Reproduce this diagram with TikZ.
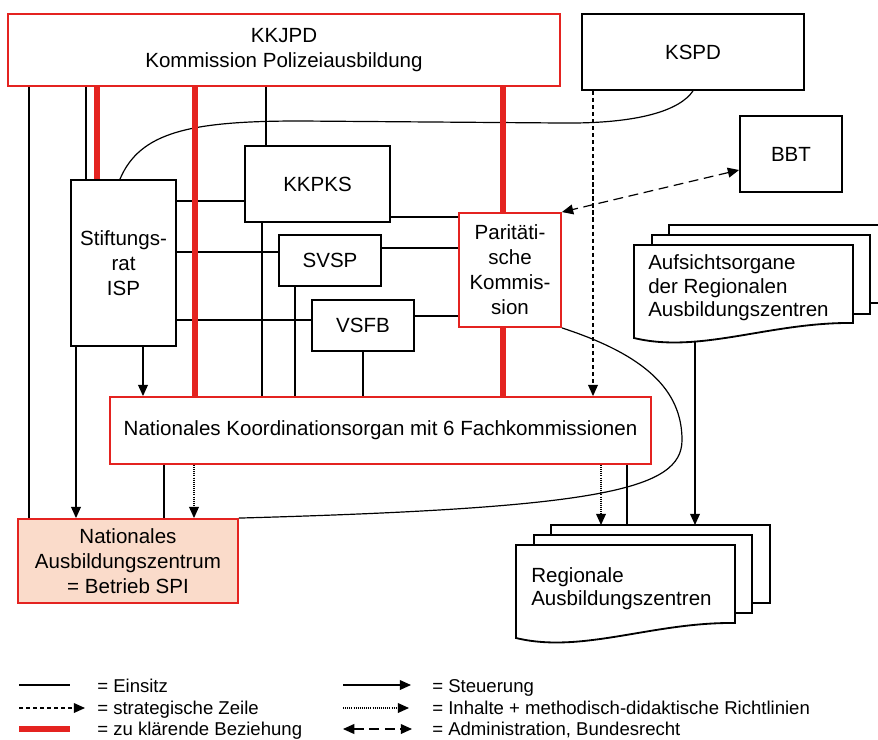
\documentclass[tikz,border=0pt]{standalone}
\usepackage{fontspec}
\setmainfont{Liberation Sans}
\usetikzlibrary{arrows.meta, positioning, calc}
\definecolor{kred}{HTML}{E42320}
\definecolor{kpeach}{HTML}{FADBCA}
\tikzset{
  box/.style={draw, line width=1.3pt, fill=white, align=center, inner sep=0pt,
    font=\fontsize{14.6}{17.8}\selectfont},
  redbox/.style={box, draw=kred},
  doc/.style={draw, line width=1.3pt, fill=white},
  doctext/.style={anchor=west, align=left, inner sep=0pt, font=\fontsize{14.6}{16.6}\selectfont},
  legtext/.style={anchor=base west, inner sep=0pt, font=\fontsize{13.2}{15}\selectfont},
  einsitz/.style={line width=0.85pt},
  steuer/.style={line width=0.85pt, -{Triangle[length=8pt, width=7pt]}},
  strat/.style={steuer, dash pattern=on 3pt off 2pt},
  inhalt/.style={steuer, dash pattern=on 0.6pt off 0.9pt},
  admin/.style={line width=0.85pt, {Triangle[length=8pt, width=7pt]}-{Triangle[length=8pt, width=7pt]},
    dash pattern=on 7pt off 4pt},
  klaer/.style={kred, line width=3.8pt}
}

\begin{document}
\begin{tikzpicture}[x=0.025cm, y=-0.025cm]
  \useasboundingbox (0,0) rectangle (878,740);
  \clip (0,0) rectangle (878,740);

  % boxes
  \node[redbox, minimum width=13.8cm, minimum height=1.8cm] (kkjpd) at (284,50) {KKJPD\\Kommission Polizeiausbildung};
  \node[box, minimum width=5.55cm, minimum height=1.9cm] (kspd) at (693,52) {KSPD};
  \node[box, minimum width=2.55cm, minimum height=1.9cm] (bbt) at (791,154) {BBT};
  \node[box, minimum width=3.625cm, minimum height=1.9cm] (kkpks) at (317.5,184) {KKPKS};
  \node[box, minimum width=2.625cm, minimum height=4.15cm] (isp) at (123.5,263) {Stiftungs-\\rat\\ISP};
  \node[box, minimum width=2.55cm, minimum height=1.275cm] (svsp) at (330,260.5) {SVSP};
  \node[box, minimum width=2.55cm, minimum height=1.275cm] (vsfb) at (363,325.5) {VSFB};
  \node[redbox, minimum width=2.55cm, minimum height=2.85cm] (pk) at (510,270) {Parit\"ati-\\sche\\Kommis-\\sion};
  \node[redbox, minimum width=13.525cm, minimum height=1.675cm] (nko) at (380.5,430.5) {Nationales Koordinationsorgan mit 6 Fachkommissionen};
  \node[redbox, fill=kpeach, minimum width=5.5cm, minimum height=2.1cm] (naz) at (128,561) {Nationales\\Ausbildungszentrum\\= Betrieb SPI};

  % document stacks
  \begin{scope}[shift={(634,245)}]
    \draw[doc] (35,-20) rectangle (254,58);
    \draw[doc] (18,-10) rectangle (236,69);
    \draw[doc] (0,0) -- (219,0) -- (219,78) .. controls (136,77) and (66,109) .. (0,93) -- cycle;
    \node[doctext] (aufs) at (14,43) {Aufsichtsorgane\\der Regionalen\\Ausbildungszentren};
    \coordinate (aufs-b) at (61,97);
  \end{scope}
  \begin{scope}[shift={(516,545)}]
    \draw[doc] (35,-20) rectangle (254,58);
    \draw[doc] (18,-10) rectangle (236,68);
    \draw[doc] (0,0) -- (219,0) -- (219,78) .. controls (136,77) and (66,109) .. (0,93) -- cycle;
    \node[doctext] (raz) at (15,44) {Regionale\\Ausbildungszentren};
    \coordinate (raz-t) at (100,-20);
  \end{scope}

  % Einsitz
  \draw[einsitz] (29,0 |- kkjpd.south) -- (29,0 |- naz.north);
  \draw[einsitz] (86,0 |- kkjpd.south) -- (86,0 |- isp.north);
  \draw[einsitz] (266,0 |- kkjpd.south) -- (266,0 |- kkpks.north);
  \draw[einsitz] (isp.east |- 0,201) -- (kkpks.west |- 0,201);
  \draw[einsitz] (isp.east |- 0,252) -- (svsp.west |- 0,252);
  \draw[einsitz] (isp.east |- 0,320) -- (vsfb.west |- 0,320);
  \draw[einsitz] (kkpks.east |- 0,217) -- (pk.west |- 0,217);
  \draw[einsitz] (svsp.east |- 0,248) -- (pk.west |- 0,248);
  \draw[einsitz] (vsfb.east |- 0,316) -- (pk.west |- 0,316);
  \draw[einsitz] (262,0 |- kkpks.south) -- (262,0 |- nko.north);
  \draw[einsitz] (295,0 |- svsp.south) -- (295,0 |- nko.north);
  \draw[einsitz] (363,0 |- vsfb.south) -- (363,0 |- nko.north);
  \draw[einsitz] (164,0 |- nko.south) -- (164,0 |- naz.north);
  \draw[einsitz] (627,0 |- nko.south) -- (627,0 |- raz-t);
  \draw[einsitz] (120,0 |- isp.north) .. controls (140,132) and (190,121) .. (300,121)
    -- (560,123) .. controls (640,124) and (680,110) .. (693,0 |- kspd.south);
  \draw[einsitz] (pk.south east) .. controls (645,355) and (682,390) .. (682,440)
    .. controls (682,490) and (600,508) .. (naz.north east);

  % Steuerung, Inhalte, strategische Zeile, Administration
  \draw[steuer] (76,0 |- isp.south) -- (76,0 |- naz.north);
  \draw[steuer] (143,0 |- isp.south) -- (143,0 |- nko.north);
  \draw[steuer] (aufs-b) -- (aufs-b |- raz-t);
  \draw[inhalt] (194,0 |- nko.south) -- (194,0 |- naz.north);
  \draw[inhalt] (601,0 |- nko.south) -- (601,0 |- raz-t);
  \draw[strat] (593,0 |- kspd.south) -- (593,0 |- nko.north);
  \draw[admin] (bbt.west |- 0,170) -- (pk.north east);

  % zu klaerende Beziehung
  \draw[klaer] (97,0 |- kkjpd.south) -- (97,0 |- isp.north);
  \draw[klaer] (195,0 |- kkjpd.south) -- (195,0 |- nko.north);
  \draw[klaer] (503,0 |- kkjpd.south) -- (503,0 |- pk.north);
  \draw[klaer] (503,0 |- pk.south) -- (503,0 |- nko.north);

  % legend
  \draw[einsitz] (19,685) -- (70,685);
  \node[legtext] (l-einsitz) at (97,692) {= Einsitz};
  \draw[strat] (19,708) -- (85,708);
  \node[legtext] (l-strat) at (97,714) {= strategische Zeile};
  \draw[klaer] (19,729) -- (70,729);
  \node[legtext] (l-klaer) at (97,735) {= zu kl\"arende Beziehung};
  \draw[steuer] (343,685) -- (411,685);
  \node[legtext] (l-steuer) at (432,692) {= Steuerung};
  \draw[inhalt] (343,708) -- (409,708);
  \node[legtext] (l-inhalt) at (432,714) {= Inhalte + methodisch-didaktische Richtlinien};
  \draw[admin] (343,729) -- (412,729);
  \node[legtext] (l-admin) at (432,735) {= Administration, Bundesrecht};
\end{tikzpicture}
\end{document}
